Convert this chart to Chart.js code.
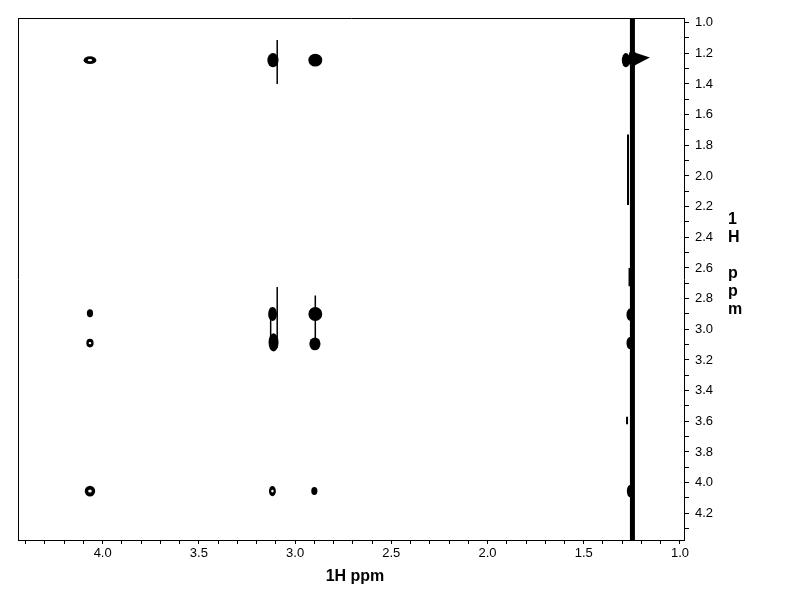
<!DOCTYPE html>
<html lang="en">
<head>
<meta charset="UTF-8" />
<title>1H-1H COSY</title>
<script src="https://cdn.jsdelivr.net/npm/chart.js@4.4.1/dist/chart.umd.min.js"></script>
<style>
  html, body { margin: 0; padding: 0; background: #fff; }
  canvas { display: block; }
</style>
</head>
<body>
<canvas id="cosyChart" width="792" height="612"></canvas>
<script>
// visible window of both axes (ppm)
const f2Range = [0.979, 4.44];
const f1Range = [0.97, 4.374];

// contour peaks: centre (ppm) and half width of the outer contour (ppm)
const peakF2 = [4.066, 4.066, 4.066, 4.066, 3.115, 3.117, 3.112, 3.118, 2.895, 2.895, 2.897, 2.900, 1.281, 1.260, 1.260, 1.260, 1.247];
const peakF1 = [1.245, 2.895, 3.090, 4.055, 1.245, 2.900, 3.085, 4.055, 1.245, 2.900, 3.095, 4.055, 1.245, 2.905, 3.090, 4.055, 1.235];
const peakWidthF2 = [0.033, 0.016, 0.019, 0.027, 0.029, 0.023, 0.026, 0.018, 0.036, 0.036, 0.029, 0.016, 0.021, 0.018, 0.018, 0.016, 0.021];
const peakWidthF1 = [0.025, 0.026, 0.028, 0.035, 0.046, 0.046, 0.059, 0.033, 0.042, 0.046, 0.042, 0.026, 0.046, 0.040, 0.040, 0.040, 0.059];
// peaks whose inner contour shows as an open ring
const ringPeaks = [0, 2, 3, 7];

// t1 noise streaks: f2 position and f1 extent (ppm)
const ridgeF2 = [1.247, 3.093, 3.093, 3.127, 2.895, 1.270, 1.275, 1.262];
const ridgeF1From = [0.97, 1.113, 2.724, 2.860, 2.780, 1.730, 3.570, 2.600];
const ridgeF1To = [4.374, 1.400, 3.120, 3.130, 3.060, 2.190, 3.620, 2.720];

// wedge-shaped contour beside the 1.25 ppm diagonal peak
const flagF2 = [1.236, 1.156, 1.236];
const flagF1 = [1.195, 1.228, 1.280];

const xTitle = "1H ppm";
const yTitle = ["1", "H", " ", "p", "p", "m"];

const tickFont = { family: "'Liberation Sans', Arial, sans-serif", size: 13 };
const titleFont = "bold 16px 'Liberation Sans', Arial, sans-serif";

const ridgeSets = ridgeF2.map((f2, i) => ({
  type: "line",
  data: [{ x: f2, y: ridgeF1From[i] }, { x: f2, y: ridgeF1To[i] }],
  borderColor: "#000",
  borderWidth: i === 0 ? 5 : (f2 < 1.5 ? 2 : 1.5),
  pointRadius: 0,
  fill: false
}));

const contourPlugin = {
  id: "contours",
  afterDatasetsDraw(chart) {
    const { ctx, chartArea: a, scales: { x, y } } = chart;
    ctx.save();
    ctx.beginPath();
    ctx.rect(a.left, a.top, a.right - a.left, a.bottom - a.top);
    ctx.clip();
    peakF2.forEach((f2, i) => {
      const cx = x.getPixelForValue(f2);
      const cy = y.getPixelForValue(peakF1[i]);
      const rx = Math.abs(x.getPixelForValue(f2 + peakWidthF2[i]) - cx);
      const ry = Math.abs(y.getPixelForValue(peakF1[i] + peakWidthF1[i]) - cy);
      ctx.fillStyle = "#000";
      ctx.beginPath();
      ctx.ellipse(cx, cy, rx, ry, 0, 0, 2 * Math.PI);
      ctx.fill();
      if (ringPeaks.includes(i)) {
        ctx.fillStyle = "#fff";
        ctx.beginPath();
        ctx.ellipse(cx, cy, rx * 0.35, ry * 0.28, 0, 0, 2 * Math.PI);
        ctx.fill();
      }
    });
    ctx.fillStyle = "#000";
    ctx.beginPath();
    flagF2.forEach((f2, i) => {
      const px = x.getPixelForValue(f2), py = y.getPixelForValue(flagF1[i]);
      if (i === 0) ctx.moveTo(px, py); else ctx.lineTo(px, py);
    });
    ctx.closePath();
    ctx.fill();
    ctx.restore();
  },
  afterDraw(chart) {
    const { ctx, chartArea: a } = chart;
    ctx.save();
    // top and left edges of the frame
    ctx.strokeStyle = "#000";
    ctx.lineWidth = 1;
    ctx.beginPath();
    ctx.moveTo(a.left, a.top + 0.5);
    ctx.lineTo(a.right + 1, a.top + 0.5);
    ctx.moveTo(a.left + 0.5, a.top);
    ctx.lineTo(a.left + 0.5, a.bottom + 1);
    ctx.stroke();

    ctx.fillStyle = "#000";
    ctx.font = titleFont;
    ctx.textAlign = "center";
    ctx.textBaseline = "alphabetic";
    ctx.fillText(xTitle, 355, 581);
    ctx.textAlign = "left";
    yTitle.forEach((ch, i) => ctx.fillText(ch, 728, 224 + i * 18));
    ctx.restore();
  }
};

new Chart(document.getElementById("cosyChart").getContext("2d"), {
  type: "scatter",
  data: { datasets: ridgeSets },
  options: {
    responsive: false,
    animation: false,
    devicePixelRatio: 1,
    layout: { padding: { top: 18, left: 18, right: 0, bottom: 0 } },
    plugins: { legend: { display: false }, tooltip: { enabled: false } },
    scales: {
      x: {
        type: "linear",
        position: "bottom",
        reverse: true,
        min: f2Range[0],
        max: f2Range[1],
        afterFit: (s) => { s.height = 72; },
        border: { display: true, color: "#000", width: 1 },
        grid: { drawOnChartArea: false, drawTicks: true, tickLength: 4, color: "#000" },
        ticks: {
          stepSize: 0.1,
          includeBounds: false,
          autoSkip: false,
          maxRotation: 0,
          padding: 2,
          color: "#000",
          font: tickFont,
          callback: (v) => Math.abs(v * 2 - Math.round(v * 2)) < 1e-6 ? v.toFixed(1) : ""
        }
      },
      y: {
        type: "linear",
        position: "right",
        reverse: true,
        min: f1Range[0],
        max: f1Range[1],
        afterFit: (s) => { s.width = 108; },
        border: { display: true, color: "#000", width: 1 },
        grid: { drawOnChartArea: false, drawTicks: true, tickLength: 5, color: "#000" },
        ticks: {
          stepSize: 0.1,
          includeBounds: false,
          autoSkip: false,
          padding: 6,
          color: "#000",
          font: tickFont,
          callback: (v) => Math.abs(v * 5 - Math.round(v * 5)) < 1e-6 ? v.toFixed(1) : ""
        }
      }
    }
  },
  plugins: [contourPlugin]
});
</script>
</body>
</html>
